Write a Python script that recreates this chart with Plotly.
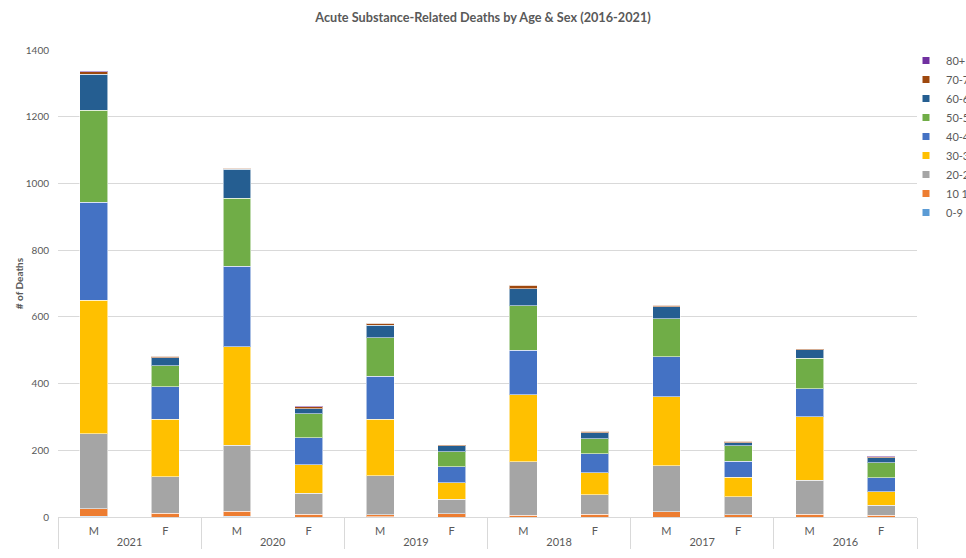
import plotly.graph_objects as go

# ---- data ----
years = ["2021", "2021", "2020", "2020", "2019", "2019",
         "2018", "2018", "2017", "2017", "2016", "2016"]
sexes = ["M", "F", "M", "F", "M", "F", "M", "F", "M", "F", "M", "F"]

age_groups = ["0-9", "10 19", "20-29", "30-39", "40-49", "50-59", "60-69", "70-79", "80+"]

deaths_0_9 = [3, 0, 2, 0, 1, 0, 0, 0, 0, 0, 0, 0]
deaths_10_19 = [21, 11, 16, 8, 6, 10, 6, 9, 16, 7, 9, 6]
deaths_20_29 = [226, 110, 197, 63, 117, 43, 160, 57, 138, 54, 101, 29]
deaths_30_39 = [400, 172, 295, 85, 169, 50, 200, 66, 206, 58, 190, 41]
deaths_40_49 = [294, 98, 241, 82, 129, 48, 134, 58, 121, 48, 85, 42]
deaths_50_59 = [276, 63, 204, 71, 116, 45, 133, 44, 113, 46, 91, 44]
deaths_60_69 = [107, 24, 87, 16, 37, 17, 52, 19, 37, 10, 26, 16]
deaths_70_79 = [8, 4, 4, 5, 6, 3, 10, 4, 4, 4, 3, 3]
deaths_80_plus = [1, 1, 1, 3, 2, 0, 2, 1, 1, 1, 0, 2]

series = [deaths_0_9, deaths_10_19, deaths_20_29, deaths_30_39, deaths_40_49,
          deaths_50_59, deaths_60_69, deaths_70_79, deaths_80_plus]
colors = ["#5B9BD5", "#ED7D31", "#A5A5A5", "#FFC000", "#4472C4",
          "#70AD47", "#255E91", "#9E480E", "#7030A0"]

FONT = "Lato"
GRAY = "#595959"

fig = go.Figure()
for name, vals, col in zip(age_groups, series, colors):
    fig.add_trace(go.Bar(
        x=[years, sexes], y=vals, name=name, legendgroup=name, showlegend=False,
        marker=dict(color=col, line=dict(color="rgba(255,255,255,0.55)", width=1)),
    ))
# legend entries (small square swatches like the original)
for name, col in zip(age_groups, colors):
    fig.add_trace(go.Scatter(
        x=[None], y=[None], mode="markers", name=name, legendgroup=name,
        marker=dict(symbol="square", size=7, color=col), showlegend=True,
    ))

W, H = 966, 558
L, R, T, B = 58, 49, 50, 41

fig.update_layout(
    width=W, height=H,
    margin=dict(l=L, r=R, t=T, b=B, autoexpand=False),
    barmode="stack", bargap=0.61,
    plot_bgcolor="white", paper_bgcolor="white",
    font=dict(family=FONT, color=GRAY, size=10),
    title=dict(text="<b>Acute Substance-Related Deaths by Age & Sex (2016-2021)</b>",
               x=0.5, xanchor="center", y=1 - 18 / H, yanchor="middle",
               font=dict(family=FONT, size=12.7, color=GRAY)),
    legend=dict(traceorder="reversed", x=(906 - L) / (W - L - R), xanchor="left",
                y=1.0 + 4 / (H - T - B), yanchor="top",
                font=dict(family=FONT, size=11, color=GRAY),
                tracegroupgap=0, bgcolor="rgba(0,0,0,0)"),
    showlegend=True,
)

fig.update_yaxes(
    range=[0, 1400], dtick=200, showgrid=True, gridcolor="#D9D9D9", gridwidth=1,
    zeroline=False, showline=False, ticks="", ticklabelstandoff=8,
    tickfont=dict(family=FONT, size=10, color=GRAY),
    title=dict(text="<b># of Deaths</b>", font=dict(family=FONT, size=10, color=GRAY), standoff=0),
    automargin=True,
)
fig.update_xaxes(
    type="multicategory", showline=True, linecolor="#D9D9D9", linewidth=1,
    showdividers=True, dividercolor="#D9D9D9", dividerwidth=1,
    tickfont=dict(family=FONT, size=11, color=GRAY), ticks="", ticklabelstandoff=4,
    automargin=False,
)

fig.write_html("out.html")
